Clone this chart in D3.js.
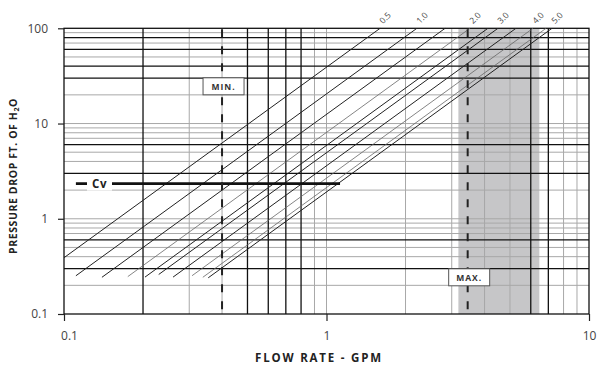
<!DOCTYPE html>
<html><head><meta charset="utf-8">
<script src="https://cdn.jsdelivr.net/npm/d3@7"></script>
<style>
body{margin:0;background:#fff;}
svg{display:block;font-family:"Open Sans","Noto Sans",sans-serif;}
</style></head><body>
<svg id="c" width="597" height="369"></svg>
<script>
// ---- data ----
const flowTicks = [0.1, 1, 10];
const dropTicks = [0.1, 1, 10, 100];
const gridMajorX = [0.2, 0.5, 0.6, 0.7, 0.8, 6, 7];
const gridMinorX = [0.3, 0.4, 0.9, 1, 2, 3, 4, 5, 8, 9];
const gridMajorY = [0.3, 0.6, 3, 6, 30, 40, 60, 80];
const gridMinorY = [0.2, 0.4, 0.5, 0.7, 0.8, 0.9, 1, 2, 4, 5, 7, 8, 9, 10, 20, 50, 70, 90];
const cvLabels   = ["0.5", "1.0", "", "2.0", "", "3.0", "", "4.0", "", "5.0"];
const startFlow  = [0.1, 0.111, 0.1395, 0.175, 0.2035, 0.2295, 0.2603, 0.3075, 0.338, 0.3544];
const startDrop  = [0.39, 0.252, 0.243, 0.247, 0.244, 0.26, 0.244, 0.2525, 0.243, 0.24];
const endFlow    = [1.60, 2.21, 2.83, 3.52, 4.12, 4.50, 5.27, 6.12, 6.86, 7.23];
const endDrop    = [100, 100, 100, 100, 100, 100, 100, 100, 100, 100];
const lightLine  = [false, false, false, true, false, false, false, true, true, false];
const bandFlow   = [3.18, 6.47];
const minFlow = 0.4, maxFlow = 3.45;
const cvDrop = 2.34, cvFlow = [0.111, 1.126];

const svg = d3.select("#c");
const x = d3.scaleLog().domain([0.1, 10]).range([64, 589]);
const y = d3.scaleLog().domain([0.1, 100]).range([314, 28.3]);
const [x0, x1] = x.range(), [y0, y1] = y.range();

// band
svg.append("rect").attr("x", x(bandFlow[0])).attr("y", y1)
  .attr("width", x(bandFlow[1]) - x(bandFlow[0])).attr("height", y0 - y1)
  .attr("fill", "#c6c6c8");

// grid
const g = svg.append("g");
g.selectAll(".mx").data(gridMinorX).join("line")
  .attr("x1", d => x(d)).attr("x2", d => x(d)).attr("y1", y0).attr("y2", y1)
  .attr("stroke", "#a8a8a8").attr("stroke-width", 1);
g.selectAll(".my").data(gridMinorY).join("line")
  .attr("y1", d => y(d)).attr("y2", d => y(d)).attr("x1", x0).attr("x2", x1)
  .attr("stroke", "#a8a8a8").attr("stroke-width", 1);
g.selectAll(".Mx").data(gridMajorX).join("line")
  .attr("x1", d => x(d)).attr("x2", d => x(d)).attr("y1", y0).attr("y2", y1)
  .attr("stroke", "#111").attr("stroke-width", 1.3);
g.selectAll(".My").data(gridMajorY).join("line")
  .attr("y1", d => y(d)).attr("y2", d => y(d)).attr("x1", x0).attr("x2", x1)
  .attr("stroke", "#111").attr("stroke-width", 1.3);
svg.append("rect").attr("x", x0).attr("y", y1).attr("width", x1 - x0).attr("height", y0 - y1)
  .attr("fill", "none").attr("stroke", "#111").attr("stroke-width", 1.3);

// Cv lines
const lines = startFlow.map((s, i) => ({s, sd: startDrop[i], e: endFlow[i], ed: endDrop[i], lab: cvLabels[i], light: lightLine[i]}));
svg.append("g").selectAll("line").data(lines).join("line")
  .attr("x1", d => x(d.s)).attr("y1", d => y(d.sd)).attr("x2", d => x(d.e)).attr("y2", d => y(d.ed))
  .attr("stroke", d => d.light ? "#666" : "#222").attr("stroke-width", d => d.light ? 0.8 : 1);
svg.append("g").selectAll("text").data(lines.filter(d => d.lab)).join("text")
  .attr("transform", d => `translate(${x(d.e) + 3},${y(d.ed) - 4}) rotate(-45)`)
  .attr("font-size", 8.5).attr("fill", "#444").text(d => d.lab);

// Cv horizontal
svg.append("line").attr("x1", x(cvFlow[0])).attr("x2", x(cvFlow[1]))
  .attr("y1", y(cvDrop)).attr("y2", y(cvDrop)).attr("stroke", "#111").attr("stroke-width", 2.6);
svg.append("rect").attr("x", 87).attr("y", y(cvDrop) - 7).attr("width", 25).attr("height", 14).attr("fill", "#fff");
svg.append("text").attr("x", 99.5).attr("y", y(cvDrop) + 4).attr("text-anchor", "middle")
  .attr("font-size", 11.5).attr("font-weight", "bold").attr("letter-spacing", 0.5).attr("fill", "#222").text("Cv");

// MIN / MAX dashed
[minFlow, maxFlow].forEach(f => {
  svg.append("line").attr("x1", x(f)).attr("x2", x(f)).attr("y1", y1 + 1).attr("y2", y0)
    .attr("stroke", "#222").attr("stroke-width", 2).attr("stroke-dasharray", "8,9");
});
function box(cx, cy, t) {
  svg.append("rect").attr("x", cx - 20.5).attr("y", cy - 8.5).attr("width", 41).attr("height", 17)
    .attr("fill", "#fff").attr("stroke", "#555").attr("stroke-width", 1);
  svg.append("text").attr("x", cx).attr("y", cy + 3.2).attr("text-anchor", "middle")
    .attr("font-size", 8.5).attr("font-weight", "bold").attr("letter-spacing", 1).attr("fill", "#333").text(t);
}
box(x(minFlow) + 1.5, 86.3, "MIN.");
box(x(maxFlow) + 1.5, 277.3, "MAX.");

// axes
const ay = svg.append("g").attr("transform", `translate(${x0},0)`)
  .call(d3.axisLeft(y).tickValues(dropTicks).tickSize(6).tickPadding(10).tickFormat(d3.format("")));
const ax = svg.append("g").attr("transform", `translate(0,${y0})`)
  .call(d3.axisBottom(x).tickValues(flowTicks).tickSize(7).tickPadding(10).tickFormat(d3.format("")));
[ax, ay].forEach(a => {
  a.select(".domain").remove();
  a.selectAll("line").attr("stroke", "#222").attr("stroke-width", 1.2);
  a.selectAll("text").attr("font-size", 12).attr("fill", "#444").attr("font-family", "'Open Sans',sans-serif");
});
ax.selectAll("text").attr("dx", (d, i) => i === 0 ? 5 : 0);

// titles
svg.append("text").attr("x", 319).attr("y", 362).attr("text-anchor", "middle")
  .attr("font-size", 11.5).attr("font-weight", "bold").attr("letter-spacing", 1.8).attr("fill", "#222")
  .text("FLOW RATE - GPM");
const yt = svg.append("text").attr("transform", "translate(17,176) rotate(-90)").attr("text-anchor", "middle")
  .attr("font-size", 10.5).attr("font-weight", "bold").attr("letter-spacing", 0.6).attr("fill", "#222");
yt.append("tspan").text("PRESSURE DROP FT. OF H");
yt.append("tspan").attr("font-size", 7).attr("dy", 2).text("2");
yt.append("tspan").attr("dy", -2).text("O");
</script>
</body></html>
